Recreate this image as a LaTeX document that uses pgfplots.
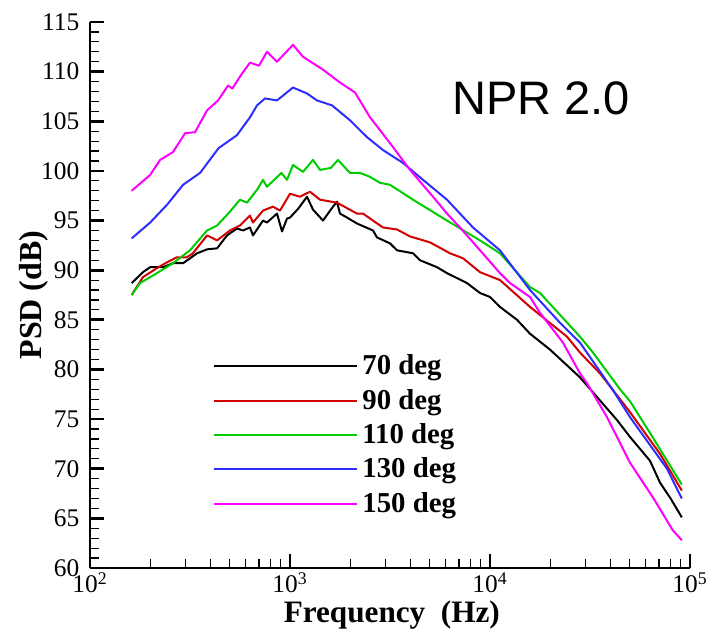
\documentclass[border=0pt]{standalone}
\usepackage{fontspec}
\setmainfont{Liberation Serif}
\newfontfamily\arialfont{Liberation Sans}
\newfontfamily\timesfont{Liberation Serif}
\usepackage{pgfplots}
\pgfplotsset{compat=1.18}

\definecolor{c70}{RGB}{0,0,0}
\definecolor{c90}{RGB}{210,0,0}
\definecolor{c110}{RGB}{0,205,0}
\definecolor{c130}{RGB}{45,45,255}
\definecolor{c150}{RGB}{255,0,255}

\begin{document}
\begin{tikzpicture}
\begin{axis}[
  scale only axis, width=300pt, height=273pt,
  xmode=log, xmin=100, xmax=100000, ymin=60, ymax=115,
  axis lines=left, axis line style={-, line width=1.2pt},
  tick align=inside,
  xtick={100,1000,10000,100000},
  xticklabels={10\textsuperscript{2},10\textsuperscript{3},10\textsuperscript{4},10\textsuperscript{5}},
  ytick={60,65,...,115}, minor y tick num=4,
  yticklabels={60,65,70,75,80,85,90,95,100,105,110,115},
  major tick length=7pt, minor tick length=4.5pt,
  every major tick/.append style={line width=1.4pt, black},
  every minor tick/.append style={line width=0.6pt, black},
  tick label style={font=\timesfont\fontsize{12.7}{14}\selectfont, inner sep=0pt},
  xticklabel style={yshift=-2pt},
  yticklabel style={xshift=-5.2pt},
  legend style={draw=none, fill=none, at={(0.205,0.3985)}, anchor=north west,
    font=\timesfont\fontsize{14.4}{16}\selectfont\bfseries, row sep=1.7pt,
    inner sep=0pt},
  legend cell align=left,
  legend image code/.code={\draw[#1, line width=0.8pt] (0pt,0pt) -- (63.5pt,0pt);
    \path (0pt,0pt) -- (71.5pt,0pt);},
  every axis plot/.append style={line width=1pt, line join=round},
]
\addplot[c70] coordinates {
(161.6,88.7)(184,89.8)(200,90.3)(232,90.3)(260,90.7)(292,90.7)(343,91.7)
(385,92.1)(432,92.2)(484,93.5)(543,94.2)(582,94.0)(631,94.3)(653,93.5)
(733,95.0)(767,94.8)(861,95.7)(912,93.9)(966,95.2)(1000,95.3)(1100,96.2)
(1216,97.4)(1303,96.1)(1462,95.0)(1641,96.4)(1718,96.9)(1778,95.7)
(1928,95.3)(2163,94.7)(2600,94.0)(2723,93.3)(3162,92.7)(3428,92.0)
(4121,91.7)(4467,91.0)(5433,90.3)(6095,89.7)(7674,88.7)(8913,87.7)
(10000,87.3)(11220,86.3)(13646,85.0)(15849,83.6)(19953,82.0)(28184,79.2)
(43152,74.9)(50119,73.2)(63096,70.8)(70795,68.6)(80000,67.0)(91000,65.1)
};
\addlegendentry{70 deg}
\addplot[c90] coordinates {
(161.6,87.5)(184,89.3)(216,90.2)(243,90.8)(272,91.3)(305,91.3)(327,91.7)
(385,93.5)(432,93.0)(501,94.0)(562,94.5)(631,95.5)(653,94.8)(733,96.0)
(822,96.4)(891,96.0)(1000,97.7)(1122,97.4)(1259,97.9)(1413,97.1)
(1718,96.8)(2163,95.7)(2317,95.7)(2917,94.3)(3428,94.1)(3981,93.4)
(5012,92.8)(6310,91.7)(7328,91.2)(8913,89.8)(11220,89.0)(15849,86.3)
(24266,83.3)(28184,81.7)(35481,79.6)(50119,75.7)(70795,71.5)(91000,67.8)
};
\addlegendentry{90 deg}
\addplot[c110] coordinates {
(161.6,87.5)(178,88.7)(216,89.7)(260,90.7)(316,92.0)(385,94.0)(432,94.5)
(501,95.9)(562,97.1)(610,96.8)(684,98.1)(733,99.1)(767,98.4)(906,99.8)
(966,99.1)(1035,100.6)(1161,99.9)(1303,101.1)(1413,100.1)(1600,100.3)
(1738,101.1)(1995,99.8)(2239,99.8)(2512,99.4)(2818,98.8)(3162,98.6)
(4121,97.1)(6095,95.0)(8913,93.0)(11220,91.7)(15849,88.3)(17783,87.7)
(28184,83.3)(32734,81.7)(44668,78.0)(50119,76.8)(63096,73.6)(91000,68.4)
};
\addlegendentry{110 deg}
\addplot[c130] coordinates {
(161.6,93.2)(200,94.8)(243,96.6)(292,98.6)(355,99.8)(440,102.3)
(543,103.6)(631,105.4)(684,106.6)(750,107.3)(861,107.1)(1035,108.4)
(1216,107.8)(1365,107.1)(1622,106.6)(1995,105.1)(2427,103.4)
(2917,102.1)(3673,100.8)(4624,99.1)(6095,97.1)(8222,94.3)(11220,92.0)
(15849,88.0)(22387,84.7)(28184,82.7)(41210,77.9)(50119,75.2)
(76736,70.0)(91000,67.0)
};
\addlegendentry{130 deg}
\addplot[c150] coordinates {
(161.6,98.0)(200,99.6)(224,101.1)(260,101.9)(299,103.8)(335,103.9)
(385,106.1)(437,107.1)(490,108.6)(515,108.3)(575,109.8)(631,110.9)
(700,110.6)(767,112.0)(861,111.0)(1035,112.7)(1161,111.5)(1462,110.2)
(1778,108.9)(2113,107.9)(2512,105.4)(3162,102.8)(3981,100.1)(5188,97.4)
(6095,95.7)(7079,94.3)(8913,92.0)(11220,89.7)(12589,88.7)(15849,87.3)
(17783,85.7)(23174,82.7)(28184,79.6)(30549,78.6)(38459,75.2)
(50119,70.6)(65313,67.1)(82000,63.8)(91000,62.8)
};
\addlegendentry{150 deg}
\coordinate (npr) at (rel axis cs:0.752,0.861);
\coordinate (ml) at (rel axis cs:0,0.5);
\coordinate (bm) at (rel axis cs:0.503,0);
\coordinate (ll) at (rel axis cs:0,0);
\coordinate (ur) at (rel axis cs:1,1);
\end{axis}
\node at (npr) {\arialfont\fontsize{23.5}{28}\selectfont NPR 2.0};
\node[rotate=90, inner sep=0pt] at ([xshift=-28pt]ml)
  {\timesfont\fontsize{16}{18}\selectfont\bfseries PSD (dB)};
\node[anchor=base, inner sep=0pt] at ([yshift=-27.3pt]bm)
  {\timesfont\fontsize{15.6}{18}\selectfont\bfseries Frequency\ \ (Hz)};
\pgfresetboundingbox
\path[use as bounding box] ([shift={(-45pt,-31pt)}]ll) rectangle ([shift={(10pt,11pt)}]ur);
\end{tikzpicture}
\end{document}
